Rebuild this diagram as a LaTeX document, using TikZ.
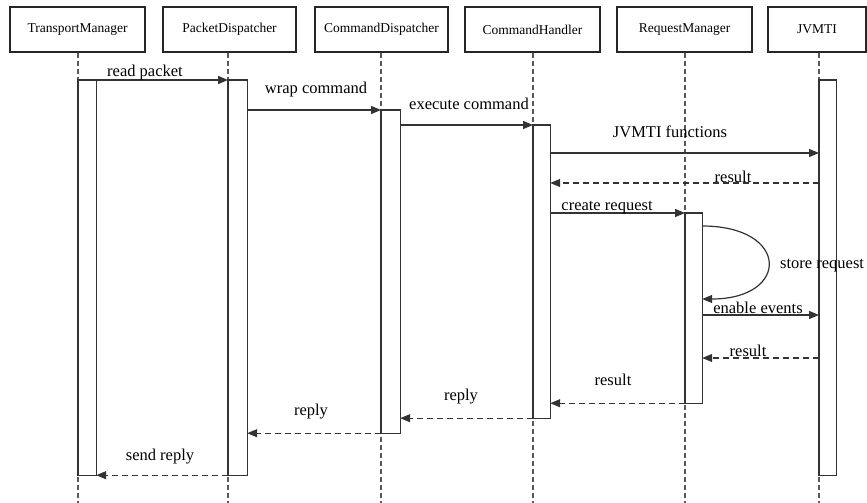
\documentclass[tikz,border=0pt]{standalone}
\usepackage{fontspec}
\setmainfont{Liberation Serif}
\usetikzlibrary{arrows.meta}
\begin{document}
\begin{tikzpicture}[x=1pt,y=-1pt,
  header/.style={draw=black!85, line width=1.2pt, minimum height=45pt, inner sep=0pt,
                 font=\fontsize{13.5}{15}\selectfont},
  lifeline/.style={draw=black!65, line width=1.2pt, dash pattern=on 5pt off 3pt},
  act/.style={draw=black!80, fill=white, line width=1.2pt, anchor=north west, inner sep=0pt},
  msg/.style={draw=black!80, line width=1.2pt, -{Triangle[length=10pt,width=8pt]}},
  ret/.style={msg, dash pattern=on 6pt off 4pt},
  lbl/.style={anchor=base, inner sep=0pt, font=\fontsize{16.5}{19}\selectfont}
]
\useasboundingbox (0,0) rectangle (867,503);

% participants
\node[header, minimum width=135pt] (tm) at (77.5,29.5)  {TransportManager};
\node[header, minimum width=133pt] (pd) at (229.5,29.5) {PacketDispatcher};
\node[header, minimum width=133pt] (cd) at (381.5,29.5) {CommandDispatcher};
\node[header, minimum width=135pt] (ch) at (532.5,29.5) {CommandHandler};
\node[header, minimum width=135pt] (rm) at (684.5,29.5) {RequestManager};
\node[header, minimum width=98pt]  (jv) at (817,29.5)   {JVMTI};

% bottom ends of the lifelines
\coordinate (bottom) at (0,503);

% activation bars
\path
  node[act, minimum width=17pt, minimum height=394pt] (tmA) at (78,80)  {}
  node[act, minimum width=18pt, minimum height=394pt] (pdA) at (228,80) {}
  node[act, minimum width=18pt, minimum height=322pt] (cdA) at (381,110) {}
  node[act, minimum width=16pt, minimum height=292pt] (chA) at (533,125) {}
  node[act, minimum width=16pt, minimum height=189pt] (rmA) at (685,213) {}
  node[act, minimum width=16pt, minimum height=394pt] (jvA) at (819,80) {};

% lifelines
\foreach \p/\a in {tm/tmA, pd/pdA, cd/cdA, ch/chA, rm/rmA, jv/jvA}
  \draw[lifeline] (\a.north west |- \p.south) -- (\a.north west |- bottom);

% activation bars drawn again on top of the lifelines
\foreach \a in {tmA, pdA, cdA, chA, rmA, jvA}
  \draw[draw=black!80, fill=white, line width=1.2pt] (\a.north west) rectangle (\a.south east);

% message rows
\coordinate (r4) at (0,153);
\coordinate (r5) at (0,183);
\coordinate (r7a) at (0,226);
\coordinate (r7b) at (0,299);
\coordinate (r8) at (0,315);
\coordinate (r9) at (0,358);

% calls
\draw[msg] (tmA.north west) -- (pdA.north west);
\draw[msg] (pdA.east |- cdA.north) -- (cdA.north west);
\draw[msg] (cdA.east |- chA.north) -- (chA.north west);
\draw[msg] (chA.east |- r4) -- (jvA.west |- r4);
\draw[ret] (jvA.west |- r5) -- (chA.east |- r5);
\draw[msg] (chA.east |- rmA.north) -- (rmA.north west);
\draw[msg] (rmA.east |- r7a) .. controls (790,226) and (790,299) .. (rmA.east |- r7b);
\draw[msg] (rmA.east |- r8) -- (jvA.west |- r8);
\draw[ret] (jvA.west |- r9) -- (rmA.east |- r9);

% replies
\draw[ret] (rmA.south west) -- (chA.east |- rmA.south);
\draw[ret] (chA.south west) -- (cdA.east |- chA.south);
\draw[ret] (cdA.south west) -- (pdA.east |- cdA.south);
\draw[ret] (pdA.south west) -- (tmA.south east);

% message labels
\node[lbl] (l1)  at (145,77)  {read packet};
\node[lbl] (l2)  at (316,93)  {wrap command};
\node[lbl] (l3)  at (469,109) {execute command};
\node[lbl] (l4)  at (670,137) {JVMTI functions};
\node[lbl] (l5)  at (733,182) {result};
\node[lbl] (l6)  at (607,210) {create request};
\node[lbl, anchor=base west] (l7) at (780,268) {store request};
\node[lbl] (l8)  at (758,313) {enable events};
\node[lbl] (l9)  at (748,356) {result};
\node[lbl] (l10) at (613,385) {result};
\node[lbl] (l11) at (461,400) {reply};
\node[lbl] (l12) at (311,415) {reply};
\node[lbl] (l13) at (160,460) {send reply};
\end{tikzpicture}
\end{document}
